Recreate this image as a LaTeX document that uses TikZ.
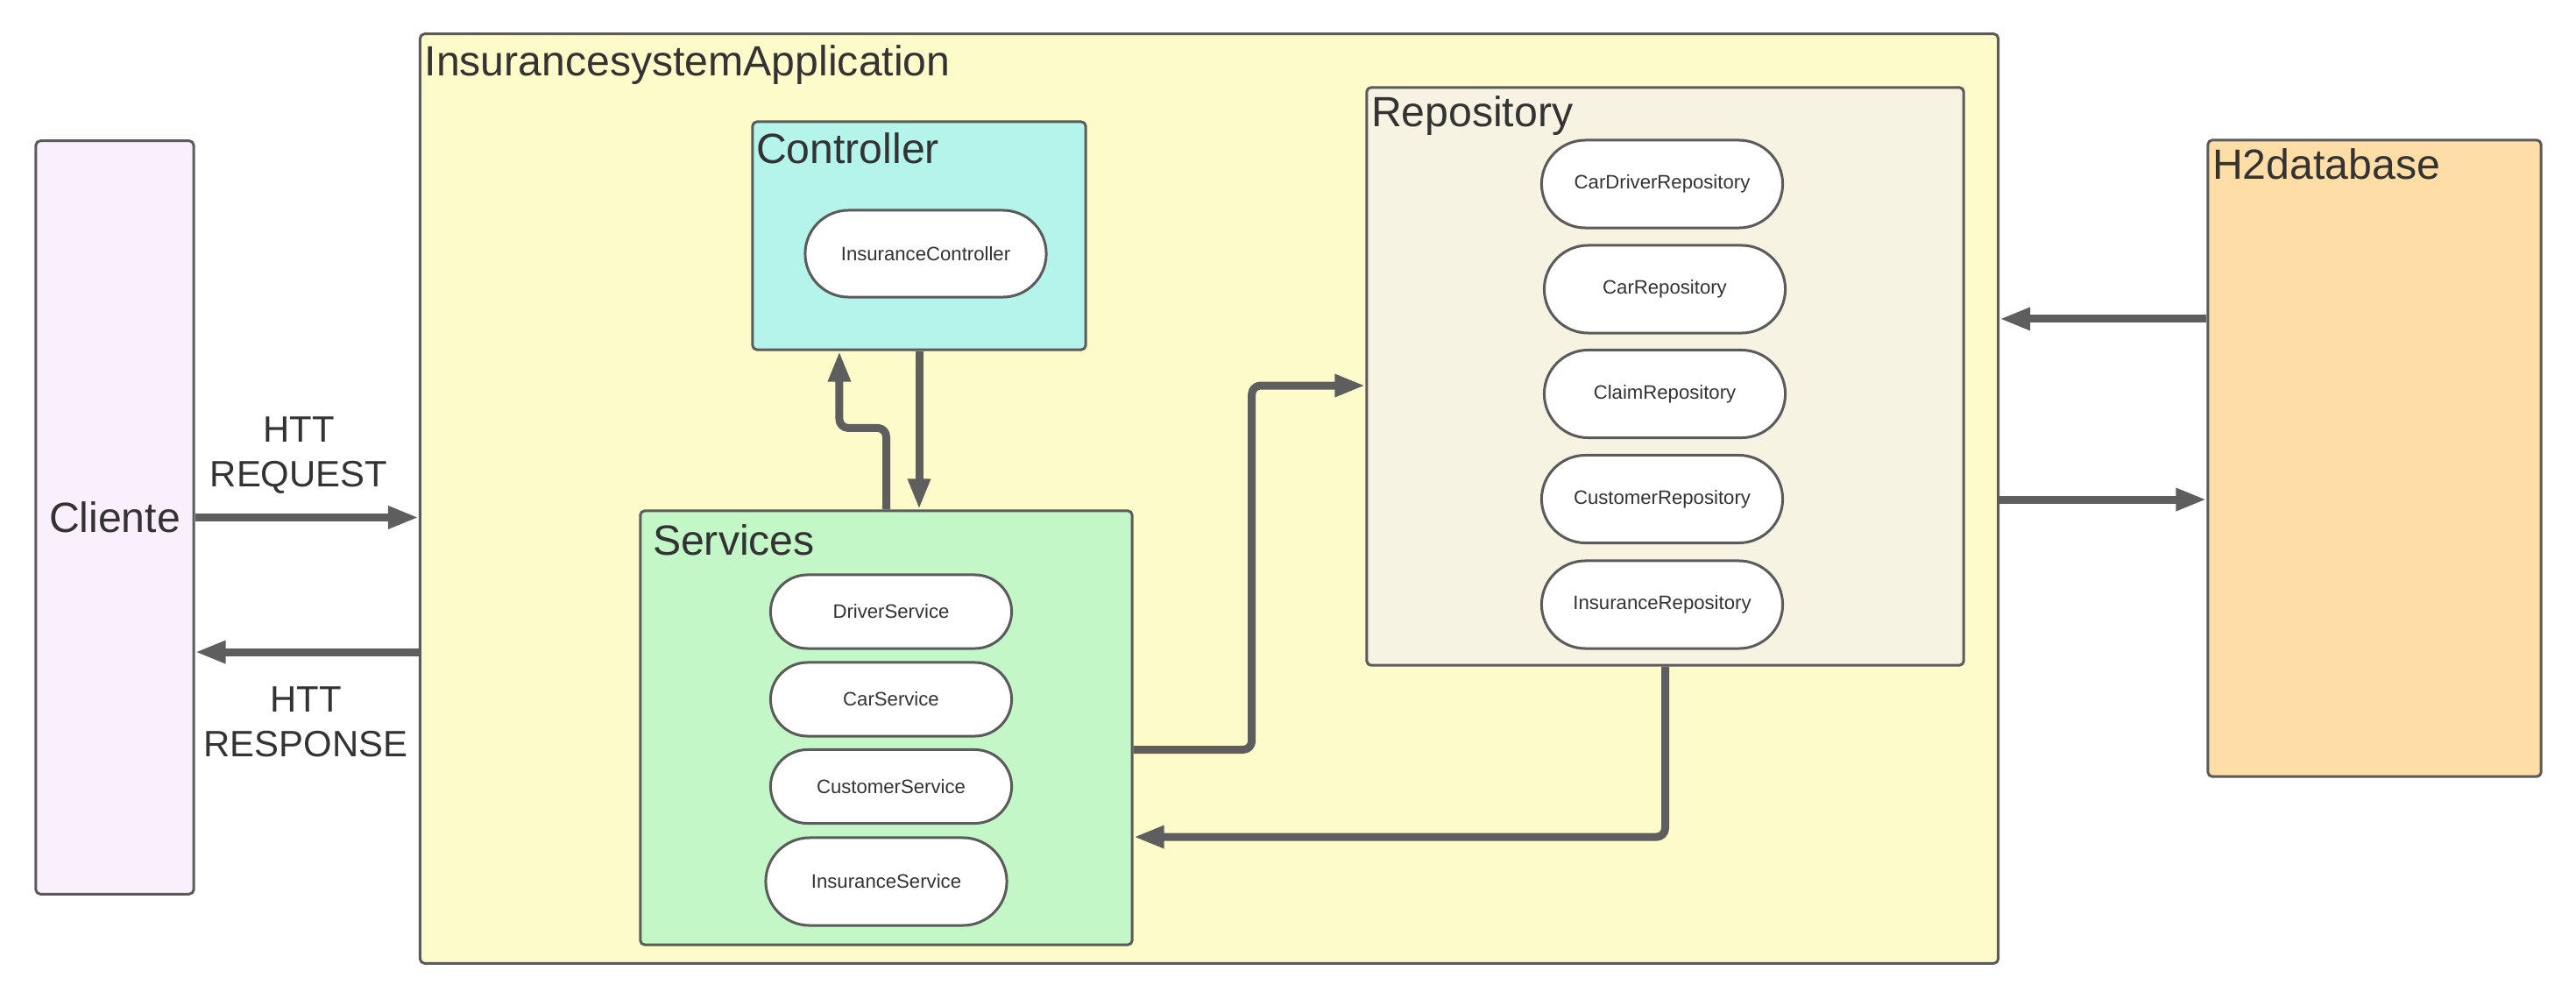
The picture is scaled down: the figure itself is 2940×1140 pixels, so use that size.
\documentclass[tikz,border=0pt]{standalone}
\usepackage{fontspec}
\setmainfont{Liberation Sans}
\usetikzlibrary{arrows.meta,shapes.misc}
\definecolor{edge}{HTML}{5B5B5B}
\definecolor{arrow}{HTML}{5E5E5E}
\definecolor{ink}{HTML}{333333}
\definecolor{clientfill}{HTML}{F9EFFD}
\definecolor{appfill}{HTML}{FDFBC9}
\definecolor{ctrlfill}{HTML}{B5F4EA}
\definecolor{servfill}{HTML}{C3F7C7}
\definecolor{repofill}{HTML}{F6F3E3}
\definecolor{dbfill}{HTML}{FEDDA6}
\begin{document}
\begin{tikzpicture}[x=.01cm, y=-.01cm, line join=round, text=ink,
    box/.style={draw=edge, line width=.03cm, rounded corners=.05cm, inner sep=0},
    title/.style={anchor=north west, inner sep=0, font=\fontsize{13.7}{16}\selectfont},
    pill/.style={draw=edge, fill=white, line width=.03cm, rounded rectangle, minimum width=2.75cm, inner sep=0, font=\fontsize{6.3}{8}\selectfont},
    flow/.style={draw=arrow, line width=.09cm, rounded corners=.1cm, -{Triangle[length=.35cm,width=.24cm]}},
    httlabel/.style={align=center, font=\fontsize{11.9}{14.5}\selectfont}]
    \useasboundingbox (0,0) rectangle (2940,1140);
    % outer blocks
    \node[box, fill=clientfill, minimum width=1.8cm, minimum height=8.59cm, font=\fontsize{13.7}{16}\selectfont] (cli) at (131,590.5) {Cliente};
    \node[box, fill=appfill, minimum width=18cm, minimum height=10.6cm] (app) at (1380,569) {};
    \node[title] at ([xshift=.06cm,yshift=-.14cm]app.north west) {InsurancesystemApplication};
    \node[box, fill=dbfill, minimum width=3.8cm, minimum height=7.26cm] (h2) at (2710,523) {};
    \node[title] at ([xshift=.06cm,yshift=-.11cm]h2.north west) {H2database};
    % layers
    \node[box, fill=ctrlfill, minimum width=3.8cm, minimum height=2.6cm] (ctrl) at (1049,269) {};
    \node[title] at ([xshift=.05cm,yshift=-.13cm]ctrl.north west) {Controller};
    \node[box, fill=servfill, minimum width=5.61cm, minimum height=4.95cm] (serv) at (1011.5,830.5) {};
    \node[title] at ([xshift=.15cm,yshift=-.17cm]serv.north west) {Services};
    \node[box, fill=repofill, minimum width=6.81cm, minimum height=6.59cm] (repo) at (1900.5,429.5) {};
    \node[title] at ([xshift=.06cm,yshift=-.11cm]repo.north west) {Repository};
    % components
    \node[pill, minimum height=.99cm] (ictrl) at (1056.5,289.5) {InsuranceController};
    \foreach \n/\t/\y in {dsrv/DriverService/698, csrv/CarService/798, cusrv/CustomerService/897.5}
        \node[pill, minimum height=.84cm] (\n) at (1017,\y) {\t};
    \node[pill, minimum height=1cm] (isrv) at (1011.5,1006) {InsuranceService};
    \foreach \n/\t/\x/\y in {cdrepo/CarDriverRepository/1897/210, crepo/CarRepository/1900/330,
        clrepo/ClaimRepository/1900/449.5, cusrepo/CustomerRepository/1897/569.5,
        irepo/InsuranceRepository/1897/690}
        \node[pill, minimum height=1cm] (\n) at (\x,\y) {\t};
    % client <-> app
    \coordinate (resp) at ([yshift=-1.535cm]cli.east);
    \draw[flow] (cli.east) -- (cli.east -| app.west);
    \draw[flow] (resp -| app.west) -- (resp);
    \node[httlabel] at (341,520) {HTT\\REQUEST};
    \node[httlabel] at (349,824) {HTT\\RESPONSE};
    % database <-> app
    \coordinate (dbout) at ([yshift=1.59cm]h2.west);
    \coordinate (dbin) at ([yshift=-.47cm]h2.west);
    \draw[flow] (dbout) -- (dbout -| app.east);
    \draw[flow] (dbin -| app.east) -- (dbin);
    % inner flows
    \draw[flow] (serv.north) -- ++(0,-93) -| ([xshift=-.91cm]ctrl.south);
    \draw[flow] (ctrl.south) -- (ctrl.south |- serv.north);
    \draw[flow] ([yshift=-.25cm]serv.east) -- ++(135,0) |- ([yshift=-.105cm]repo.west);
    \draw[flow] (repo.south) |- ([yshift=-1.245cm]serv.east);
\end{tikzpicture}
\end{document}
